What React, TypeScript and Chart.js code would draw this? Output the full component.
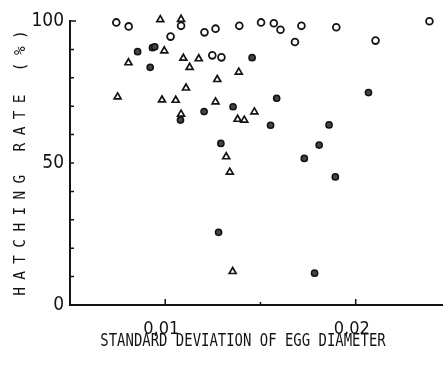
import React, { useEffect, useRef } from "react";
import { Chart, registerables } from "chart.js";

Chart.register(...registerables);

// Open circles
const openX = [0.00743, 0.00808, 0.01083, 0.01028, 0.01206, 0.01264, 0.01389, 0.01247, 0.01295, 0.01503, 0.0157, 0.01605, 0.01715, 0.01681, 0.01898, 0.02104, 0.02387];
const openY = [99.5, 98.1, 98.3, 94.5, 96.0, 97.3, 98.3, 87.9, 87.2, 99.5, 99.2, 96.9, 98.3, 92.6, 97.8, 93.1, 99.9];

// Open triangles
const triX = [0.00974, 0.01083, 0.00995, 0.00807, 0.01095, 0.01176, 0.01128, 0.01386, 0.01273, 0.01109, 0.0075, 0.00983, 0.01055, 0.01264, 0.01468, 0.01083, 0.0138, 0.01415, 0.0132, 0.01339, 0.01354];
const triY = [100.5, 100.6, 89.5, 85.3, 86.9, 86.7, 83.7, 82.0, 79.4, 76.4, 73.3, 72.2, 72.1, 71.5, 68.0, 67.2, 65.4, 65.1, 52.2, 46.8, 11.8];

// Filled circles
const fillX = [0.00855, 0.00933, 0.00945, 0.00921, 0.01456, 0.01356, 0.01204, 0.0108, 0.01292, 0.01585, 0.02067, 0.01553, 0.0186, 0.01808, 0.0173, 0.01893, 0.0128, 0.01784];
const fillY = [89.2, 90.6, 90.9, 83.7, 87.1, 69.8, 68.1, 65.1, 56.9, 72.8, 74.8, 63.3, 63.4, 56.3, 51.6, 45.1, 25.6, 11.2];

// Axis ticks and labels
const xMajorTicks = [0.01, 0.02];
const xMajorLabels = ["0,01", "0,02"];
const xMinorTicks = [0.015];
const yLabelTicks = [0, 50, 100];
const yMinorTicks = [0, 10, 20, 30, 40, 50, 60, 70, 80, 90, 100];

const xTitle = "STANDARD DEVIATION OF EGG DIAMETER";
const yTitle = "HATCHING RATE (%)";

const INK = "#141414";
const NARROW = "'Liberation Sans Narrow', 'DejaVu Sans Condensed', sans-serif";
const MONO = "'DejaVu Sans Mono', 'Liberation Mono', monospace";

const toPoints = (xs: number[], ys: number[]) => xs.map((x, i) => ({ x, y: ys[i] }));

// Inward tick marks and the axis titles
const axisDecor = {
  id: "axisDecor",
  afterDraw(chart: any) {
    const { ctx, chartArea, scales } = chart;
    const xs = scales.x;
    const ys = scales.y;
    ctx.save();
    ctx.strokeStyle = INK;
    ctx.lineWidth = 1.5;
    ctx.beginPath();
    yMinorTicks.forEach((v) => {
      const py = ys.getPixelForValue(v);
      const len = v === 100 ? 6 : 4;
      ctx.moveTo(chartArea.left, py);
      ctx.lineTo(chartArea.left + len, py);
    });
    xMajorTicks.forEach((v) => {
      const px = xs.getPixelForValue(v);
      ctx.moveTo(px, chartArea.bottom);
      ctx.lineTo(px, chartArea.bottom - 6);
    });
    xMinorTicks.forEach((v) => {
      const px = xs.getPixelForValue(v);
      ctx.moveTo(px, chartArea.bottom);
      ctx.lineTo(px, chartArea.bottom - 3);
    });
    ctx.stroke();

    ctx.fillStyle = INK;
    ctx.textAlign = "center";
    ctx.textBaseline = "middle";

    // x-axis title, condensed
    ctx.font = `17px ${MONO}`;
    ctx.save();
    ctx.translate(chartArea.left + 173, chartArea.bottom + 37);
    ctx.scale(0.82, 1);
    ctx.fillText(xTitle, 0, 0);
    ctx.restore();

    // y-axis title, rotated and letter-spaced
    ctx.font = `16px ${MONO}`;
    ctx.save();
    ctx.translate(21, (chartArea.top + chartArea.bottom) / 2);
    ctx.rotate(-Math.PI / 2);
    ctx.scale(0.9, 1);
    (ctx as any).letterSpacing = "8.2px";
    ctx.fillText(yTitle, 4, 0);
    ctx.restore();

    ctx.restore();
  },
};

export default function App() {
  const canvasRef = useRef<HTMLCanvasElement | null>(null);

  useEffect(() => {
    document.body.style.margin = "0";
    const canvas = canvasRef.current;
    if (!canvas) return;
    const chart = new Chart(canvas, {
      type: "scatter",
      data: {
        datasets: [
          {
            label: "open",
            data: toPoints(openX, openY),
            pointStyle: "circle",
            pointRadius: 3.4,
            pointBorderWidth: 1.8,
            borderColor: INK,
            backgroundColor: "#ffffff",
            clip: false,
          },
          {
            label: "triangle",
            data: toPoints(triX, triY),
            pointStyle: "triangle",
            pointRadius: 4,
            pointBorderWidth: 1.7,
            borderColor: INK,
            backgroundColor: "#ffffff",
            clip: false,
          },
          {
            label: "filled",
            data: toPoints(fillX, fillY),
            pointStyle: "circle",
            pointRadius: 3.1,
            pointBorderWidth: 1.5,
            borderColor: "#111111",
            backgroundColor: "#444444",
            clip: false,
          },
        ],
      },
      options: {
        animation: false,
        responsive: false,
        devicePixelRatio: 1,
        layout: { padding: { top: 21, right: 0, left: 0, bottom: 0 } },
        plugins: {
          legend: { display: false },
          tooltip: { enabled: false },
        },
        scales: {
          x: {
            type: "linear",
            min: 0.005,
            max: 0.02454,
            grid: { display: false, drawTicks: false },
            border: { display: true, color: INK, width: 2 },
            afterFit: (scale: any) => {
              scale.height = 67;
            },
            afterBuildTicks: (scale: any) => {
              scale.ticks = xMajorTicks.map((value) => ({ value }));
            },
            ticks: {
              padding: 14,
              labelOffset: -4,
              color: INK,
              font: { family: NARROW, size: 18 },
              maxRotation: 0,
              callback: (_v: any, i: number) => xMajorLabels[i],
            },
          },
          y: {
            type: "linear",
            min: 0,
            max: 100,
            grid: { display: false, drawTicks: false },
            border: { display: true, color: INK, width: 2 },
            afterFit: (scale: any) => {
              scale.width = 70;
            },
            afterBuildTicks: (scale: any) => {
              scale.ticks = yLabelTicks.map((value) => ({ value }));
            },
            ticks: {
              padding: 6,
              color: INK,
              font: { family: NARROW, size: 19 },
              callback: (v: any) => String(v),
            },
          },
        },
      },
      plugins: [axisDecor],
    } as any);
    return () => chart.destroy();
  }, []);

  return (
    <div style={{ width: 448, height: 372, background: "#ffffff" }}>
      <canvas ref={canvasRef} width={448} height={372} />
    </div>
  );
}
